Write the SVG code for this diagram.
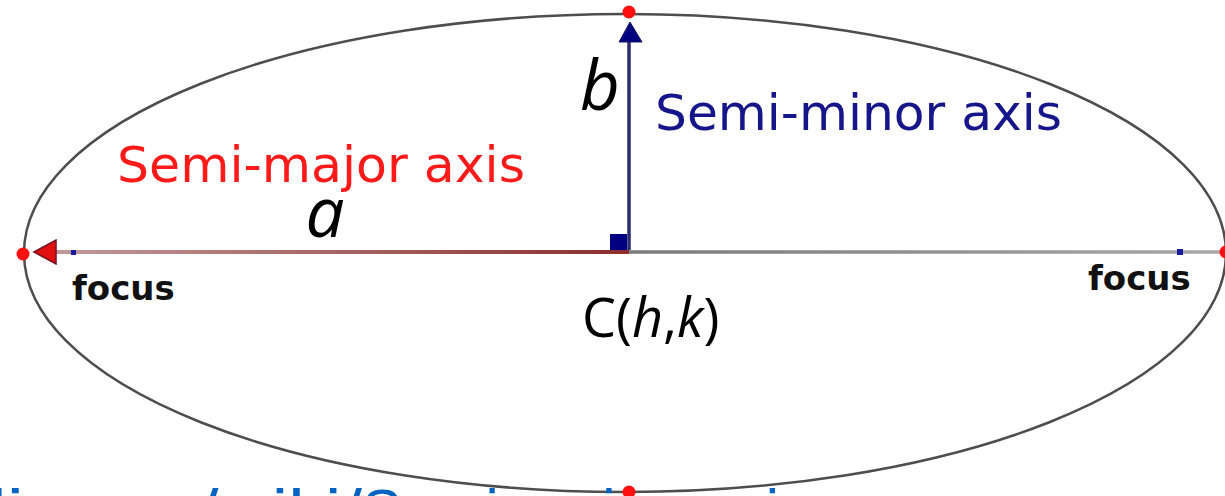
<svg xmlns="http://www.w3.org/2000/svg" width="1225" height="496" viewBox="0 0 1225 496">
<style>
.lbl{font-family:"DejaVu Sans",Verdana,sans-serif;font-size:50.5px}
.focus{font-family:"DejaVu Sans",Verdana,sans-serif;font-size:34px;font-weight:bold;fill:#111}
.math{font-family:"Open Sans","Liberation Sans",sans-serif;fill:#000}
.vertex{fill:#ff1010}
.foc{fill:#1a1aa0}
.url{font-family:"Liberation Sans",Arial,sans-serif;font-size:62px;fill:#0563C1}
</style>
<defs>
<linearGradient id="major" gradientUnits="userSpaceOnUse" x1="52" y1="252" x2="629" y2="252">
<stop offset="0" stop-color="#c09a9a"/>
<stop offset="1" stop-color="#8b2e2e"/>
</linearGradient>
<linearGradient id="rightAxis" gradientUnits="userSpaceOnUse" x1="629" y1="252" x2="1225" y2="252">
<stop offset="0" stop-color="#7a7a7a"/>
<stop offset="1" stop-color="#a8a8a8"/>
</linearGradient>
</defs>
<rect width="1225" height="496" fill="#fff"/>
<g id="ellipse">
<ellipse cx="625" cy="253" rx="601" ry="239" fill="none" stroke="#4d4d4d" stroke-width="2.5"/>
</g>
<g id="connectors">
<line x1="52" y1="252" x2="629" y2="252" stroke="url(#major)" stroke-width="4"/>
<line x1="629" y1="252" x2="1225" y2="252" stroke="url(#rightAxis)" stroke-width="3.5"/>
<line x1="629" y1="250" x2="629" y2="38" stroke="#2b2b6e" stroke-width="3.5"/>
<polygon points="34,252 56,240 56,264" fill="#e01010" stroke="#7a1020" stroke-width="1.5"/>
<polygon points="630,22 619,42 642,42" fill="#000080" stroke="#1a1a60" stroke-width="1"/>
<rect x="610" y="234" width="17" height="16" fill="#000080"/>
</g>
<g id="vertices">
<circle class="vertex" cx="629" cy="12" r="6.5"/>
<circle class="vertex" cx="629" cy="492" r="6.5"/>
<circle class="vertex" cx="23" cy="254" r="6.5"/>
<circle class="vertex" cx="1226" cy="252" r="6.5"/>
</g>
<g id="foci">
<rect class="foc" x="71" y="250" width="5" height="5"/>
<rect class="foc" x="1177" y="249" width="6" height="6"/>
<text class="focus" x="72" y="300">focus</text>
<text class="focus" x="1088" y="290">focus</text>
</g>
<g id="semi-major">
<text class="lbl" x="117" y="182" fill="#ff1a1a" textLength="408" lengthAdjust="spacingAndGlyphs">Semi-major axis</text>
<text class="math" x="325" y="237" font-size="69" font-style="italic" text-anchor="middle">a</text>
</g>
<g id="semi-minor">
<text class="lbl" x="655" y="130" fill="#16168a" textLength="407" lengthAdjust="spacingAndGlyphs">Semi-minor axis</text>
<text class="math" x="600" y="110" font-size="69" font-style="italic" text-anchor="middle">b</text>
</g>
<g id="center">
<text class="math" x="582" y="337" font-size="54">C(<tspan font-style="italic">h</tspan>,<tspan font-style="italic">k</tspan>)</text>
</g>
<g id="url">
<text class="url" y="532"><tspan x="-590" textLength="790" lengthAdjust="spacingAndGlyphs">https://en.wikipedia.org</tspan><tspan x="198" textLength="164" lengthAdjust="spacingAndGlyphs">/wiki/</tspan><tspan x="362" textLength="447" lengthAdjust="spacingAndGlyphs">Semi-major_axis</tspan></text>
</g>
</svg>
